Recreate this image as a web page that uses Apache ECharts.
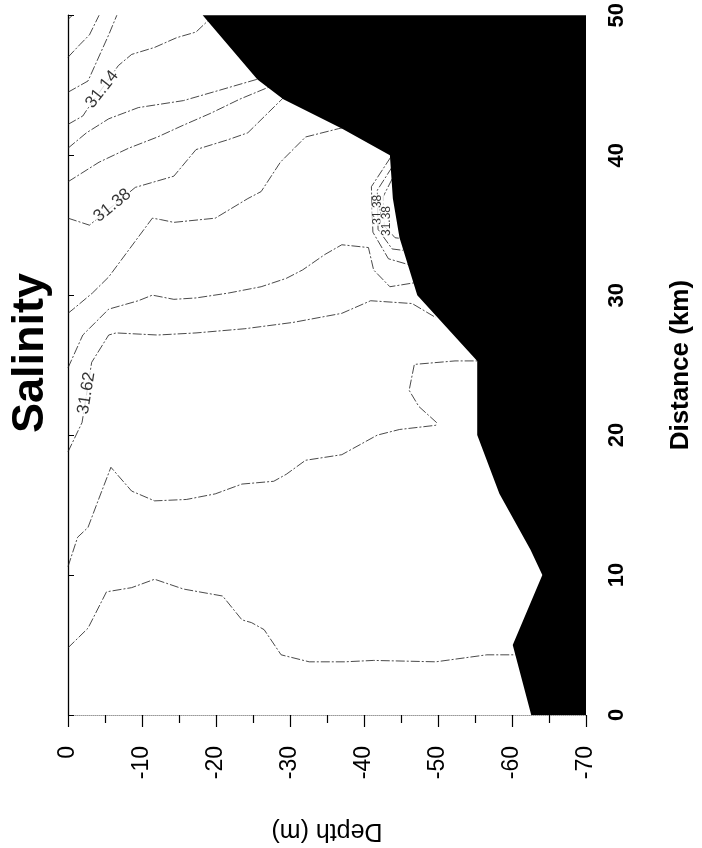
<!DOCTYPE html>
<html>
<head>
<meta charset="utf-8">
<script src="https://cdn.jsdelivr.net/npm/echarts@6/dist/echarts.min.js"></script>
<style>
  html, body { margin: 0; padding: 0; background: #fff; }
  #chart { width: 702px; height: 848px; }
</style>
</head>
<body>
<div id="chart"></div>
<script>
// Salinity cross-section: horizontal axis = depth (m), vertical axis = distance (km)

// Axis ranges and tick steps
const depthRange = [-70, 0];
const distRange = [0, 50];
const depthTickStep = 10;
const distTickStep = 10;

// Sea floor profile (distance km -> bottom depth m)
const bottomDist  = [50, 45.4, 44.0, 41.9, 40.0, 36.9, 34.1, 30.0, 25.3, 20.0, 15.8, 11.8, 10.0, 5.0, 0];
const bottomDepth = [-18.2, -25.6, -29.1, -37.0, -43.5, -43.9, -44.8, -47.2, -55.3, -55.3, -58.3, -62.5, -64.1, -60.1, -62.6];

// Isohalines, each as [depth, distance] pairs
const iso01 = [[0, 49.7], [-0.6, 50]];
const iso02 = [[0, 47.0], [-1.6, 47.9], [-2.9, 48.6], [-4.2, 50]];
const iso03 = [[0, 44.5], [-2.7, 45.3], [-5.5, 48.6], [-6.6, 50]];
const iso04 = [[0, 42.2], [-2.0, 42.8], [-2.5, 43.2], [-6.8, 46.4], [-8.6, 47.2], [-11.7, 47.7], [-14.7, 48.4], [-17.3, 48.8], [-18.9, 49.6]];
const iso05 = [[0, 40.5], [-2.5, 41.6], [-5.5, 42.6], [-9.5, 43.4], [-15.6, 43.9], [-20.2, 44.6], [-25.4, 45.4], [-27.0, 45.6]];
const iso06 = [[0, 38.1], [-4.2, 39.5], [-8.2, 40.5], [-12.1, 41.3], [-15.4, 42.1], [-19.3, 43.0], [-23.2, 44.0], [-27.3, 44.9]];
const iso07 = [[0, 35.5], [-2.9, 35.0], [-9.1, 37.7], [-14.3, 38.5], [-17.3, 40.4], [-21.6, 41.1], [-24.3, 41.6], [-29.1, 44.1], [-30.0, 44.2]];
const iso08 = [[0, 28.7], [-0.7, 29.0], [-3.3, 30.15], [-5.5, 31.3], [-11.4, 35.5], [-12.5, 35.4], [-14.3, 35.2], [-19.9, 35.5], [-24.3, 36.9], [-26.1, 37.4], [-28.7, 39.5], [-32.1, 41.3], [-36.6, 41.9], [-37.5, 42.0]];
const iso09 = [[0, 24.8], [-2.0, 27.15], [-5.5, 29.0], [-9.5, 29.6], [-11.4, 30.0], [-14.3, 29.7], [-17.3, 29.8], [-21.7, 30.15], [-26.1, 30.6], [-29.5, 31.2], [-31.7, 31.8], [-34.7, 32.9], [-37.0, 33.6], [-40.6, 33.4], [-41.3, 31.8], [-43.5, 30.6], [-47.0, 30.9]];
const iso10 = [[0, 18.8], [-1.9, 20.9], [-3.2, 25.2], [-5.5, 27.15], [-6.5, 27.3], [-12.1, 27.15], [-17.3, 27.3], [-23.9, 27.6], [-30.4, 28.05], [-37.0, 28.7], [-40.9, 29.6], [-46.5, 29.4], [-49.7, 28.4]];
const iso11 = [[0, 10.6], [-1.3, 12.7], [-2.7, 13.4], [-4.2, 15.5], [-5.8, 17.7], [-8.6, 16.0], [-11.7, 15.3], [-16.0, 15.4], [-19.9, 15.8], [-23.5, 16.5], [-27.8, 16.7], [-29.5, 17.2], [-32.1, 18.2], [-37.0, 18.6], [-41.8, 20.0], [-44.8, 20.4], [-49.7, 20.7], [-49.8, 20.9], [-47.4, 22.05], [-46.1, 23.2], [-46.8, 25.05], [-52.3, 25.3], [-55.3, 25.3]];
const iso12 = [[0, 4.8], [-2.7, 6.2], [-5.2, 8.8], [-8.6, 9.1], [-11.7, 9.7], [-15.6, 9.0], [-20.9, 8.5], [-23.5, 6.8], [-24.8, 6.6], [-26.5, 6.1], [-28.8, 4.3], [-32.6, 3.8], [-37.4, 3.8], [-41.3, 3.9], [-49.7, 3.8], [-56.6, 4.3], [-60.5, 4.3]];
// small closed-in cells against the slope near 35 km
const cell1 = [[-43.6, 39.85], [-41.0, 37.75], [-41.2, 34.5], [-43.3, 32.6], [-45.9, 32.2]];
const cell2 = [[-43.8, 39.15], [-41.8, 37.5], [-41.9, 34.7], [-43.8, 33.3], [-45.3, 33.2]];
const cell3 = [[-43.8, 38.3], [-42.6, 37.05], [-42.7, 34.96], [-44.2, 34.1], [-45.0, 34.05]];

// Contour labels: text, position [depth, distance], text angle
const labelText  = ['31.14', '31.38', '31.62', '31.38', '31.38'];
const labelPos   = [[-4.6, 44.7], [-6.0, 36.4], [-2.5, 23.0], [-41.9, 36.1], [-43.0, 35.3]];
const labelAngle = [52, 39, 81, 90, 90];

const isolines = [iso01, iso02, iso03, iso04, iso05, iso06, iso07, iso08, iso09, iso10, iso11, iso12, cell1, cell2, cell3];

const FONT = '"Liberation Sans", Arial, Helvetica, sans-serif';

const chart = echarts.init(document.getElementById('chart'), null, { renderer: 'canvas' });

const lineSeries = isolines.map(pts => ({
  type: 'line',
  data: pts,
  xAxisIndex: 0,
  yAxisIndex: 0,
  symbol: 'none',
  showSymbol: false,
  silent: true,
  animation: false,
  z: 2,
  lineStyle: { color: '#1c1c1c', width: 0.8, type: [9, 2, 2, 2] }
}));

const labelSeries = {
  type: 'scatter',
  xAxisIndex: 0,
  yAxisIndex: 0,
  symbolSize: 0,
  silent: true,
  animation: false,
  z: 3,
  data: labelText.map((t, i) => ({
    value: labelPos[i],
    label: {
      show: true,
      position: 'inside',
      formatter: t,
      rotate: labelAngle[i],
      fontSize: i >= 3 ? 12 : 17,
      fontFamily: FONT,
      color: '#000',
      backgroundColor: '#fff',
      padding: [0, 1]
    }
  }))
};

const seabedSeries = {
  type: 'custom',
  xAxisIndex: 0,
  yAxisIndex: 0,
  silent: true,
  animation: false,
  z: 4,
  data: [[depthRange[0], distRange[0]]],
  renderItem: function (params, api) {
    const pts = bottomDepth.map((d, i) => api.coord([d, bottomDist[i]]));
    pts.push(api.coord([depthRange[0], distRange[0]]));
    pts.push(api.coord([depthRange[0], distRange[1]]));
    return { type: 'polygon', shape: { points: pts }, style: { fill: '#000' } };
  }
};

chart.setOption({
  animation: false,
  backgroundColor: '#fff',
  grid: { left: 68, right: 101, top: 12, bottom: 119, containLabel: false },
  graphic: [{
    type: 'text',
    x: 31,
    y: 353,
    rotation: Math.PI / 2,
    style: {
      text: 'Salinity',
      font: 'bold 45px ' + FONT,
      fill: '#000',
      align: 'center',
      verticalAlign: 'middle',
      textAlign: 'center',
      textVerticalAlign: 'middle'
    }
  }],
  xAxis: [{
    type: 'value',
    position: 'bottom',
    min: depthRange[0],
    max: depthRange[1],
    interval: depthTickStep,
    inverse: true,
    name: 'Depth (m)',
    nameLocation: 'middle',
    nameGap: 103,
    nameRotate: 180,
    nameTextStyle: { fontSize: 25, fontFamily: FONT, color: '#000' },
    axisLine: { show: false },
    axisTick: { show: true, length: 12, lineStyle: { color: '#000', width: 1.2 } },
    minorTick: { show: true, splitNumber: 2, length: 8, lineStyle: { color: '#000', width: 1.2 } },
    splitLine: { show: false },
    axisLabel: { rotate: 90, margin: 31, fontSize: 23, fontFamily: FONT, color: '#000' }
  }, {
    type: 'value',
    position: 'top',
    min: depthRange[0],
    max: depthRange[1],
    inverse: true,
    axisLine: { show: true, lineStyle: { color: '#9a9a9a', width: 1, type: 'dotted' } },
    axisTick: { show: false },
    axisLabel: { show: false },
    splitLine: { show: false }
  }],
  yAxis: [{
    type: 'value',
    position: 'right',
    min: distRange[0],
    max: distRange[1],
    interval: distTickStep,
    name: 'Distance (km)',
    nameLocation: 'middle',
    nameGap: 82,
    nameRotate: 90,
    nameTextStyle: { fontSize: 26, fontWeight: 'bold', fontFamily: FONT, color: '#000' },
    axisLine: { show: false },
    axisTick: { show: true, length: 6, lineStyle: { color: '#000', width: 1 } },
    splitLine: { show: false },
    axisLabel: { rotate: 90, margin: 20, fontSize: 22, fontWeight: 'bold', fontFamily: FONT, color: '#000' }
  }, {
    type: 'value',
    position: 'left',
    min: distRange[0],
    max: distRange[1],
    axisLine: { show: true, lineStyle: { color: '#000', width: 1.3 } },
    axisTick: { show: false },
    axisLabel: { show: false },
    splitLine: { show: false }
  }],
  series: [...lineSeries, labelSeries, seabedSeries]
});
</script>
</body>
</html>
